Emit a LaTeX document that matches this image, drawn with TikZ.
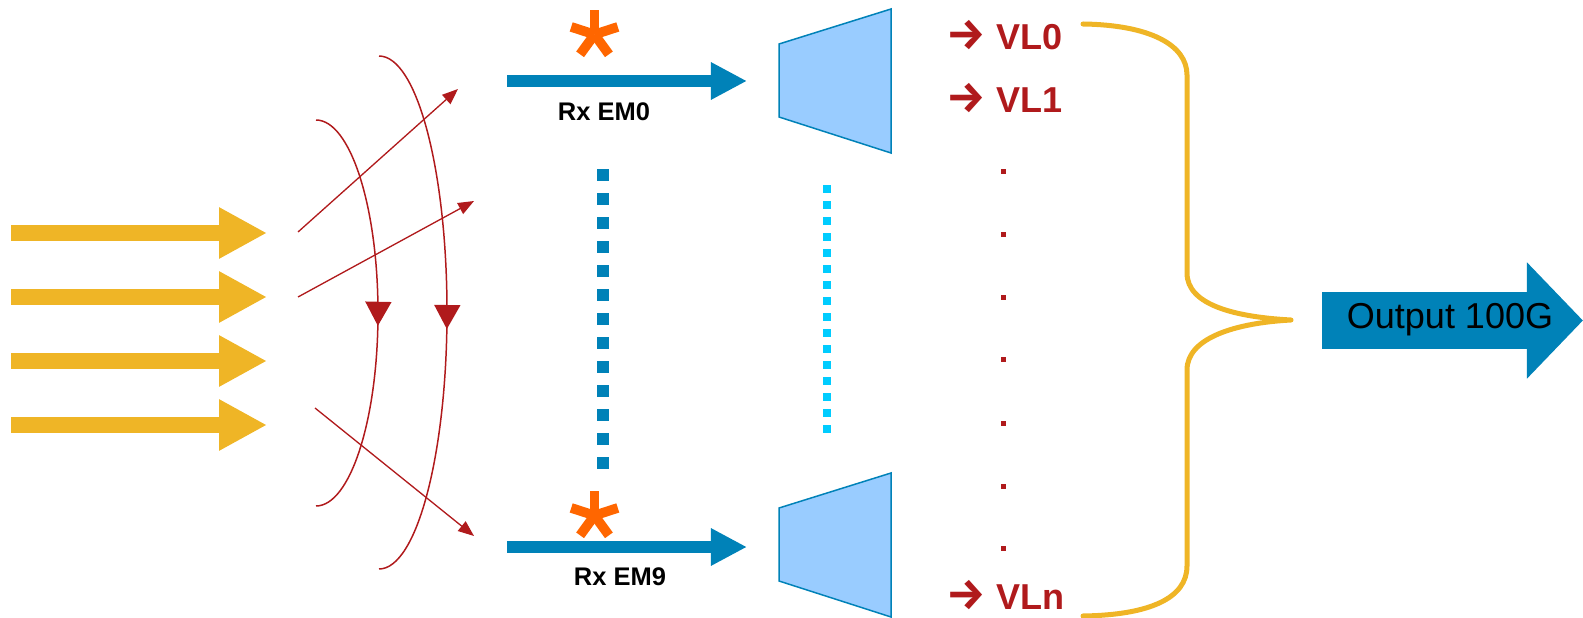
\documentclass[tikz,border=0pt]{standalone}
\usepackage{fontspec}
\setmainfont{Liberation Sans}
\newfontfamily\arrowfont{Fira Sans}
\usetikzlibrary{arrows.meta,calc,positioning,decorations.markings}
\definecolor{laneyellow}{RGB}{239,181,38}
\definecolor{emblue}{RGB}{0,130,184}
\definecolor{vlred}{RGB}{176,26,28}
\definecolor{trapfill}{RGB}{153,204,255}
\definecolor{dotcyan}{RGB}{0,204,255}
\definecolor{starorange}{RGB}{255,102,0}
\newcommand{\vlarrow}{{\arrowfont\bfseries\fontsize{25pt}{25pt}\selectfont →}\hspace{0.3em}}

\begin{document}
\begin{tikzpicture}[x=0.02cm,y=-0.02cm,
  lane/.style={laneyellow,line width=9.1pt,-{Triangle[length=27.3pt,width=27.3pt]}},
  emarrow/.style={emblue,line width=6.8pt,-{Triangle[length=20.5pt,width=19.9pt]}},
  skewarrow/.style={vlred,line width=0.75pt,-{Triangle[length=9pt,width=7pt]}},
  ringarc/.style={vlred,line width=0.85pt,postaction={decorate},
    decoration={markings,mark=at position 0.53 with {\arrow{Triangle[length=13.7pt,width=14.8pt]}}}},
  trapbox/.style={draw=emblue,fill=trapfill,line width=0.85pt,line join=miter},
  emlabel/.style={inner sep=0pt,font=\bfseries\fontsize{14.5pt}{16pt}\selectfont},
  vllabel/.style={inner sep=0pt,anchor=base west,text=vlred,font=\bfseries\fontsize{20.5pt}{24pt}\selectfont},
  stararm/.style={starorange,line width=5.5pt},
  outarrow/.style={emblue,line width=32.4pt,-{Triangle[length=31.9pt,width=64.3pt]}}]
  \useasboundingbox (0,0) rectangle (1583,618);
  % incoming lanes
  \foreach \y [count=\i] in {233,297,361,425} {
    \coordinate (lane\i s) at (11,\y);
    \coordinate (lane\i e) at (267,\y);
    \draw[lane] (lane\i s) -- (lane\i e);
  }
  % skew between lanes
  \coordinate (sk1s) at (298,232); \coordinate (sk1e) at (458,89);
  \coordinate (sk2s) at (298,297); \coordinate (sk2e) at (474,201);
  \coordinate (sk3s) at (315,408); \coordinate (sk3e) at (474,536);
  \draw[skewarrow] (sk1s) -- (sk1e);
  \draw[skewarrow] (sk2s) -- (sk2e);
  \draw[skewarrow] (sk3s) -- (sk3e);
  \draw[ringarc] (316,120) .. controls (350,120) and (378,206) .. (378,313)
    .. controls (378,420) and (350,506) .. (316,506);
  \draw[ringarc] (379,56) .. controls (417,56) and (447,171) .. (447,312)
    .. controls (447,453) and (417,569) .. (379,569);
  % receive arrows
  \coordinate (em0s) at (507,81); \coordinate (em0e) at (747,81);
  \coordinate (em9s) at (507,547); \coordinate (em9e) at (747,547);
  \draw[emarrow] (em0s) -- (em0e);
  \draw[emarrow] (em9s) -- (em9e);
  \foreach \cy in {34.5,515.5}
    \foreach \a in {-90,-18,54,126,198}
      \draw[stararm] (594.5,\cy) -- ++(\a:24.5);
  \node[emlabel] (em0) at (604,112) {Rx EM0};
  \node[emlabel] (em9) at (620,577) {Rx EM9};
  \foreach \k in {0,...,12} \fill[emblue] (597,169+24*\k) rectangle ++(12,12);
  % demux blocks
  \draw[trapbox] (779,44) -- (891,9) -- (891,153) -- (779,117) -- cycle;
  \draw[trapbox] (779,508) -- (891,473) -- (891,617) -- (779,581) -- cycle;
  \foreach \k in {0,...,15} \fill[dotcyan] (823,185+16*\k) rectangle ++(8,8);
  % virtual lanes
  \node[vllabel] (vl0) at (946,50) {\vlarrow VL0};
  \node[vllabel] (vl1) at (946,113) {\vlarrow VL1};
  \node[vllabel] (vln) at (946,609) {\vlarrow VLn};
  \foreach \y in {172,235,298,360,423,486,548} \fill[vlred] (1000.5,\y-2.5) rectangle ++(5,5);
  \draw[laneyellow,line width=2.85pt,line cap=round,line join=round]
    (1083,24) .. controls (1150,25) and (1187,45) .. (1187,75) -- (1187,273)
    .. controls (1187,305) and (1235,317) .. (1291,320)
    .. controls (1235,323) and (1187,338) .. (1187,370) -- (1187,566)
    .. controls (1187,598) and (1150,615) .. (1083,616);
  % output
  \coordinate (outs) at (1322,320.5); \coordinate (oute) at (1583,320.5);
  \draw[outarrow] (outs) -- (oute);
  \node[inner sep=0pt,font=\fontsize{20.5pt}{24pt}\selectfont] (out) at (1450,320) {Output 100G};
\end{tikzpicture}
\end{document}
